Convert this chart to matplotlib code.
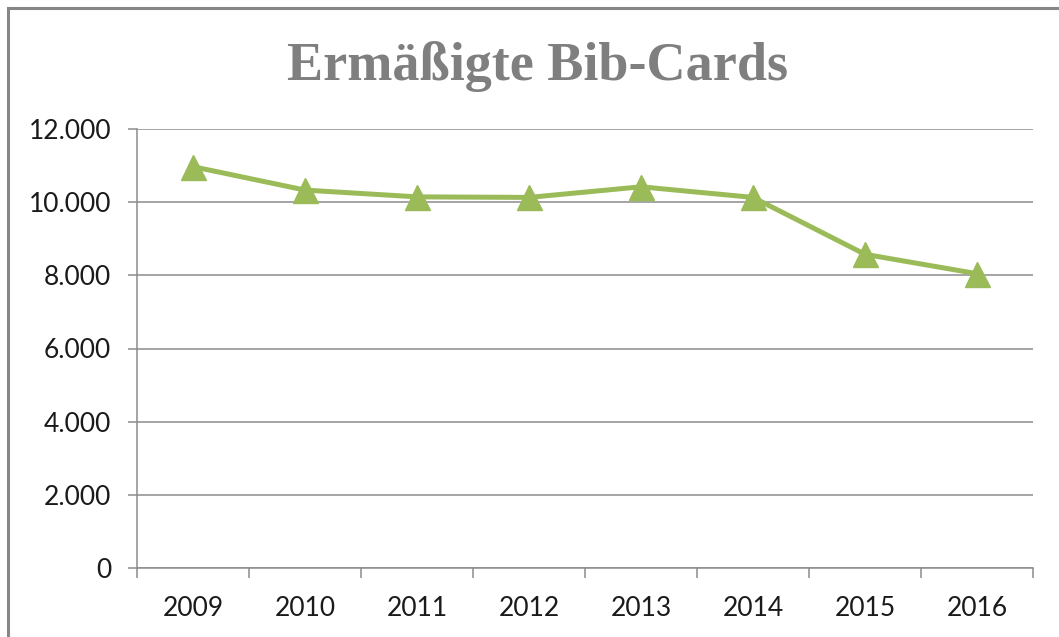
import matplotlib
matplotlib.use("Agg")
import matplotlib.pyplot as plt
from matplotlib.patches import Rectangle
from matplotlib.ticker import FuncFormatter, FixedLocator

# Ermäßigte Bib-Cards pro Jahr
years = ["2009", "2010", "2011", "2012", "2013", "2014", "2015", "2016"]
cards = [10970, 10330, 10145, 10130, 10420, 10130, 8575, 8045]

y_ticks = [0, 2000, 4000, 6000, 8000, 10000, 12000]

W, H = 1059, 637
fig = plt.figure(figsize=(W / 100, H / 100), dpi=100)
fig.patch.set_facecolor("white")

# chart frame (runs off the right and bottom edge)
fig.patches.append(Rectangle((8 / W, -0.1), 1.2, 1 - 8 / H + 0.1,
                             transform=fig.transFigure, fill=False,
                             edgecolor="#878787", linewidth=2.2))

ax = fig.add_axes([137 / W, 1 - 568 / H, (1033 - 137) / W, (568 - 129) / H])

x = list(range(len(years)))
ax.plot(x, cards, color="#9bbb59", linewidth=3.6, marker="^",
        markersize=18, markerfacecolor="#9bbb59", markeredgecolor="#9bbb59",
        zorder=3, clip_on=False)

ax.set_xlim(-0.5, len(years) - 0.5)
ax.set_ylim(0, 12000)

grid_color = "#8c8c8c"
ax.set_yticks(y_ticks)
ax.yaxis.set_major_formatter(FuncFormatter(lambda v, p: f"{int(v):,}".replace(",", ".")))
ax.yaxis.grid(True, color=grid_color, linewidth=1.1)
ax.set_axisbelow(True)

ax.set_xticks(x)
ax.set_xticklabels(years)
ax.xaxis.set_minor_locator(FixedLocator([i - 0.5 for i in range(len(years) + 1)]))

for side in ["top", "right"]:
    ax.spines[side].set_visible(False)
for side in ["left", "bottom"]:
    ax.spines[side].set_color(grid_color)
    ax.spines[side].set_linewidth(1.1)

tick_font = dict(family=["Lato", "DejaVu Sans"], size=19, color="#1a1a1a")
ax.tick_params(axis="y", length=6.5, width=1.1, color=grid_color, pad=12)
ax.tick_params(axis="x", which="major", length=0, pad=20)
ax.tick_params(axis="x", which="minor", length=7, width=1.1, color=grid_color)
for lbl in ax.get_xticklabels() + ax.get_yticklabels():
    lbl.set_fontfamily(tick_font["family"])
    lbl.set_fontsize(tick_font["size"])
    lbl.set_color(tick_font["color"])

fig.text(538 / W, 1 - 80 / H, "Ermäßigte Bib-Cards", ha="center", va="baseline",
         fontsize=39, fontweight="bold", color="#7f7f7f",
         family=["Liberation Serif", "DejaVu Serif"])

fig.savefig("out.png", dpi=100, facecolor="white")
